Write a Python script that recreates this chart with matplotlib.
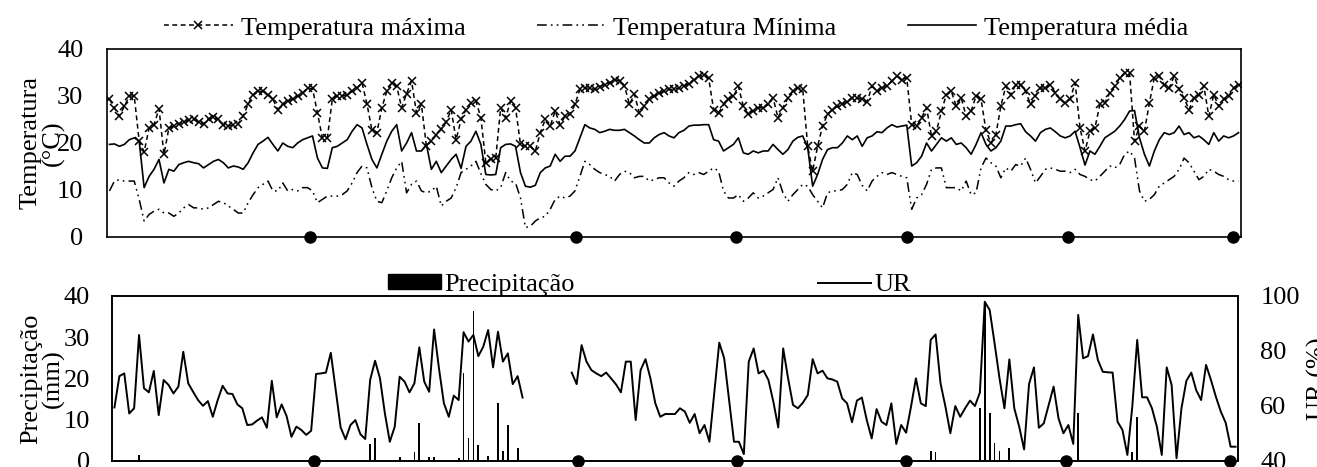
import numpy as np
import matplotlib
matplotlib.use('Agg')
import matplotlib.pyplot as plt
from matplotlib.patches import Patch
from matplotlib.lines import Line2D

plt.rcParams['font.family'] = ['Liberation Serif', 'DejaVu Serif']
plt.rcParams['lines.scale_dashes'] = False

# daily series (229 days)
t_max = [29.3, 27.5, 25.7, 27.8, 30.0, 30.0, 20.4, 18.1, 23.2, 23.9,
         27.3, 17.6, 23.2, 23.6, 24.1, 24.5, 24.8, 25.0, 24.5, 24.1,
         25.2, 25.5, 25.0, 23.9, 23.6, 23.9, 24.1, 25.7, 28.3, 30.3,
         31.0, 31.0, 30.3, 29.3, 27.1, 28.3, 28.9, 29.3, 30.0, 30.7,
         31.7, 31.6, 26.4, 21.0, 21.1, 29.3, 30.0, 30.0, 30.3, 31.0,
         31.7, 32.8, 28.3, 22.7, 22.2, 27.5, 31.0, 32.8, 32.1, 27.5,
         30.5, 33.2, 26.4, 28.2, 19.3, 20.4, 21.8, 22.9, 24.5, 27.1,
         20.7, 25.0, 27.1, 28.5,
         28.9, 25.4, 15.8, 16.5, 16.8, 27.5, 25.4, 28.9, 27.5, 19.7,
         19.3, 19.3, 18.3, 22.2, 25.0, 23.6, 26.8, 23.9, 25.7, 26.1,
         28.2, 31.4, 31.7, 31.7, 31.4, 32.0, 32.4, 32.8, 33.5, 33.2,
         32.2, 28.2, 30.4, 26.4, 27.8, 29.3, 29.9, 30.6, 31.0, 31.4,
         31.4, 31.7, 32.1, 32.6, 33.5, 34.2, 34.4, 33.8, 27.1, 26.4,
         28.2, 29.3, 29.9, 32.1, 27.8, 26.1, 26.8, 27.5, 27.5, 28.2,
         29.6, 25.4, 27.5, 29.6, 31.0, 31.7, 31.4, 19.3, 14.0, 19.3,
         23.6, 26.1, 27.1, 27.8, 28.2, 28.8, 29.6,
         29.6, 29.3, 28.8, 32.1, 31.0, 31.7, 32.1, 33.2, 34.2, 33.5,
         33.9, 23.9, 23.6, 25.4, 27.5, 21.5, 22.5, 26.8, 30.3, 31.0,
         27.8, 29.6, 25.7, 26.8, 30.0, 29.3, 22.7, 20.0, 21.8, 27.8,
         32.1, 30.3, 32.4, 32.4, 31.0, 28.2, 30.0, 31.7, 31.7, 32.4,
         30.7, 29.3, 28.5, 29.3, 32.8, 23.2, 18.3, 22.5, 23.2, 28.2,
         28.5, 30.7, 32.1, 33.9, 34.9, 34.9, 20.4, 23.6, 22.5, 28.5,
         33.9, 34.2, 32.4, 31.7, 34.2, 31.4, 29.6, 27.1, 29.6, 30.3,
         32.1, 25.7, 30.3, 27.8, 29.3, 30.0, 31.7, 32.4]

t_min = [9.8, 11.9, 12.2, 11.9, 11.9, 11.9, 8.0, 3.4, 4.8, 5.5,
         5.9, 5.1, 5.1, 4.4, 5.1, 6.2, 6.9, 6.2, 6.2, 5.9,
         6.2, 6.9, 7.6, 7.3, 6.6, 5.9, 5.1, 5.1, 7.3, 9.0,
         10.5, 11.2, 11.9, 9.8, 9.8, 11.5, 9.8, 10.1, 9.8, 10.5,
         10.5, 9.8, 7.3, 8.0, 8.7, 8.7, 8.7, 9.0, 9.8, 11.5,
         13.7, 15.1, 14.7, 10.5, 7.6, 7.3, 9.8, 12.6, 14.7, 16.1,
         9.4, 11.2, 11.9, 9.8, 9.4, 9.8, 10.8, 6.6, 7.6, 8.3,
         10.5, 13.7, 14.4, 15.1,
         16.1, 13.5, 11.2, 10.1, 9.8, 10.5, 13.7, 11.9, 11.5, 8.3,
         2.0, 2.3, 3.4, 4.1, 4.4, 5.9, 8.0, 8.7, 8.3, 8.7,
         9.8, 12.9, 16.1, 15.4, 14.4, 13.7, 13.3, 12.9, 11.9, 13.3,
         14.0, 13.7, 12.6, 12.9, 12.9, 11.9, 12.2, 12.6, 12.6, 11.5,
         10.8, 11.9, 12.6, 13.7, 13.3, 13.7, 13.3, 14.0, 14.7, 14.0,
         9.8, 8.3, 8.3, 9.0, 7.6, 8.3, 9.4, 8.3, 8.7, 9.4,
         10.1, 12.6, 9.4, 7.6, 9.0, 10.1, 11.2, 10.8, 9.0, 7.6,
         6.2, 9.4, 9.8, 9.8, 10.1, 11.2, 13.7,
         13.3, 11.0, 9.8, 11.9, 12.9, 13.7, 13.3, 13.7, 13.3, 12.9,
         12.6, 5.9, 8.3, 9.0, 11.2, 14.4, 14.7, 14.7, 10.5, 10.5,
         10.5, 9.8, 11.9, 9.0, 9.4, 14.7, 16.8, 15.8, 15.1, 12.6,
         14.7, 14.0, 15.4, 15.1, 16.8, 14.4, 11.5, 12.9, 14.4, 14.7,
         14.4, 14.0, 14.0, 13.7, 14.4, 13.3, 12.9, 12.2, 11.9, 12.9,
         14.0, 15.1, 14.7, 15.4, 17.6, 18.3, 16.8, 9.8, 7.6, 8.0,
         9.0, 10.8, 11.5, 12.2, 12.9, 14.4, 16.8, 15.8, 14.0, 12.2,
         12.9, 14.4, 14.0, 13.3, 12.9, 12.2, 11.9, 11.9]

t_mean = [19.7, 19.8, 19.3, 19.7, 20.7, 21.1, 20.4, 10.5, 12.9, 14.4,
          16.5, 11.5, 14.4, 14.0, 15.4, 15.8, 16.1, 15.8, 15.6, 14.7,
          15.4, 16.1, 16.5, 15.8, 14.7, 15.1, 14.9, 14.4, 15.8, 17.9,
          19.7, 20.4, 21.2, 19.7, 18.3, 20.0, 19.3, 19.0, 20.0, 20.7,
          21.1, 21.5, 16.8, 14.7, 14.6, 19.0, 19.3, 20.0, 20.7, 22.5,
          23.9, 23.2, 19.7, 16.5, 14.7, 17.6, 20.4, 22.5, 23.9, 18.3,
          20.0, 22.2, 18.3, 18.3, 19.7, 14.4, 16.1, 13.7, 15.1, 16.5,
          17.6, 14.6, 19.3, 20.4, 22.5,
          19.7, 13.3, 13.2, 13.3, 19.0, 19.7, 19.8, 19.3, 13.7, 10.8,
          10.6, 11.0, 13.7, 14.7, 15.1, 17.6, 16.1, 17.2, 17.2, 18.3,
          21.1, 23.9, 23.2, 22.9, 22.2, 22.5, 22.9, 22.7, 22.7, 22.9,
          22.2, 21.5, 20.7, 20.0, 20.0, 21.1, 21.8, 22.2, 21.5, 21.1,
          22.2, 22.7, 23.6, 23.8, 23.8, 23.9, 23.9, 20.7, 20.4, 18.3,
          19.0, 19.7, 21.1, 17.9, 17.6, 18.3, 17.9, 18.3, 18.3, 19.7,
          18.6, 17.6, 18.6, 20.4, 21.2, 21.5, 19.0, 10.8, 13.3, 16.5,
          18.6, 19.0, 19.0, 20.0, 21.5, 20.7,
          21.5, 19.3, 21.1, 21.5, 22.4, 22.2, 23.2, 23.9, 23.4, 23.6,
          23.8, 15.1, 15.8, 17.2, 20.0, 18.3, 19.7, 21.1, 20.4, 21.1,
          19.7, 20.0, 19.0, 17.6, 19.7, 22.2, 19.7, 18.3, 19.0, 20.4,
          23.6, 23.6, 23.9, 24.1, 22.4, 21.5, 20.4, 22.2, 22.9, 23.2,
          22.4, 21.5, 21.1, 21.5, 22.5, 19.0, 15.3, 18.3, 17.6, 19.3,
          21.1, 21.8, 22.5, 23.6, 25.0, 26.8, 26.9, 21.1, 17.6, 15.1,
          18.3, 20.7, 22.2, 21.8, 22.2, 23.6, 21.8, 22.2, 21.1, 21.5,
          20.7, 19.7, 22.2, 20.4, 21.5, 21.1, 21.5, 22.2]

nan = float('nan')
ur = [59.4, 70.8, 71.8, 57.2, 59.1, 85.8, 66.4, 64.9, 72.7, 56.6,
      69.4, 67.6, 64.5, 67.0, 79.7, 68.2, 65.1, 62.1, 60.0, 61.7,
      56.0, 62.1, 67.3, 64.5, 64.3, 60.5, 59.1, 53.0, 53.2, 54.6,
      55.8, 52.0, 69.1, 55.8, 60.5, 56.3, 48.7, 52.4, 51.2, 49.4,
      50.9, 71.6, 71.8, 72.1, 79.3, 65.7, 52.1, 47.8, 53.0, 54.8,
      49.7, 47.9, 69.4, 76.4, 70.0, 57.2, 46.9, 52.4, 70.6, 68.8,
      64.9, 68.2, 81.3, 68.8, 65.1, 87.8, 73.6, 60.9, 56.0, 63.7,
      62.1, 86.8, 83.4, 85.8, 78.1, 81.5, 87.6,
      74.0, 87.0, 76.1, 79.1, 67.9, 70.8, 63.0,
      nan, nan, nan, nan, nan, nan, nan, nan, nan,
      72.1, 67.9, 82.1, 76.1, 73.0, 71.8, 70.8, 72.1, 70.0, 67.8,
      64.9, 76.1, 76.1, 54.8, 73.0, 77.0, 70.0, 60.9, 56.0, 57.0,
      57.0, 57.0, 59.1, 57.9, 53.8, 57.0, 50.0, 53.0, 46.9, 65.0,
      83.0, 77.3, 62.1, 46.9, 46.9, 42.4, 76.1, 80.9, 71.8, 72.8,
      69.4, 61.5, 52.1, 80.9, 70.0, 60.3, 59.1, 61.1, 63.9, 77.0,
      71.8, 72.8, 70.0, 69.6, 68.8, 62.7, 60.9, 54.0, 61.9, 63.0,
      54.8, 48.1, 58.8, 54.2, 53.0, 60.9, 46.1, 53.0, 50.2, 59.7,
      70.0, 60.9, 59.9, 84.0, 86.0, 68.2, 59.7, 50.0, 59.9, 56.0,
      59.1, 61.9, 59.9, 64.8, 97.9, 94.9, 82.7, 70.0, 59.1, 76.9,
      59.1, 52.4, 44.1, 67.9, 74.0, 52.0, 53.6, 60.3, 67.0, 55.4,
      50.0, 53.0, 46.1, 93.1, 77.3, 78.1, 86.0, 76.7, 72.4, 72.2,
      72.1, 54.2, 51.2, 42.1, 59.7, 84.0, 63.1, 63.1, 59.1, 52.4,
      42.1, 74.0, 67.6, 40.9, 59.1, 69.1, 72.1, 65.7, 62.1, 74.9,
      69.4, 63.3, 57.9, 53.8, 45.1, 45.1]

# rainy days only (index of day, mm)
rain_day = [5, 52, 53, 58, 61, 62, 64, 65, 70, 71, 72, 73, 74, 76, 78, 79, 80, 82,
            166, 167, 176, 177, 178, 179, 180, 182, 196, 207, 208]
rain_mm = [1.4, 4.0, 5.4, 0.8, 2.2, 9.1, 0.9, 0.9, 0.7, 21.2, 5.6, 36.4, 3.8, 1.1,
           13.9, 2.4, 8.7, 3.2, 2.4, 2.0, 12.7, 38.6, 11.5, 4.2, 2.3, 3.0, 11.5, 2.2, 10.7]

# black dots on the x axis
marks = [40.5, 94.3, 126.6, 161.0, 193.5, 226.8]

n = len(t_max)
days = np.arange(n)
W, H = 1317, 467
FS = 19

fig = plt.figure(figsize=(W / 100, H / 100), dpi=100)
ax_t = fig.add_axes([107 / W, 1 - 237 / H, 1134 / W, 188 / H])
ax_b = fig.add_axes([112 / W, 1 - 460.7 / H, 1126 / W, 164.7 / H])

# --- temperature panel
l1, = ax_t.plot(days, t_max, color='k', lw=1.1, ls=(0, (3.5, 2.5)),
                marker='x', ms=6, mew=1.1)
l2, = ax_t.plot(days, t_min, color='k', lw=1.1, ls=(0, (7, 3, 1.2, 3, 1.2, 3)))
l3, = ax_t.plot(days, t_mean, color='k', lw=1.2)
ax_t.plot(marks, [0] * len(marks), 'o', color='k', ms=8, clip_on=False, zorder=5)

ax_t.set_xlim(-0.5, n - 0.5)
ax_t.set_ylim(0, 40)
ax_t.set_yticks([0, 10, 20, 30, 40])
ax_t.set_xticks([])
ax_t.tick_params(axis='y', length=0, labelsize=FS, pad=17)
ax_t.set_ylabel('Temperatura\n(°C)', fontsize=FS, linespacing=1.0)
ax_t.yaxis.set_label_coords(-0.037, 0.5)
ax_t.legend([l1, l2, l3], ['Temperatura máxima', 'Temperatura Mínima', 'Temperatura média'],
            loc='center', bbox_to_anchor=(0.502, 1.112), ncol=3, frameon=False,
            fontsize=FS, handlelength=2.6, handletextpad=0.3, columnspacing=2.7,
            borderpad=0, borderaxespad=0, numpoints=1)

# --- rain / humidity panel
rain = np.zeros(n)
rain[rain_day] = rain_mm
ax_b.bar(days, rain, width=0.35, color='k')
ax_b.plot(marks, [0] * len(marks), 'o', color='k', ms=8, clip_on=False, zorder=5)
ax_b.set_xlim(-0.5, n - 0.5)
ax_b.set_ylim(0, 40)
ax_b.set_yticks([0, 10, 20, 30, 40])
ax_b.set_xticks([])
ax_b.tick_params(axis='y', length=0, labelsize=FS, pad=16)
ax_b.set_ylabel('Precipitação\n(mm)', fontsize=FS, linespacing=1.0)
ax_b.yaxis.set_label_coords(-0.0417, 0.5)

ax_r = ax_b.twinx()
ax_r.plot(days, ur, color='k', lw=1.4)
ax_r.set_ylim(40, 100)
ax_r.set_yticks([40, 60, 80, 100])
ax_r.tick_params(axis='y', length=0, labelsize=FS, pad=16)
ax_r.set_ylabel('UR (%)', fontsize=FS)
ax_r.yaxis.set_label_coords(1.0613, 0.5)

for ax in (ax_t, ax_b, ax_r):
    for s in ax.spines.values():
        s.set_linewidth(1.2)

ax_b.legend([Patch(color='k'), Line2D([], [], color='k', lw=1.4)], ['Precipitação', 'UR'],
            loc='center left', bbox_to_anchor=(0.245, 1.067), ncol=2, frameon=False,
            fontsize=FS, handlelength=2.0, handleheight=0.5, handletextpad=0.15,
            columnspacing=9.2, borderpad=0, borderaxespad=0)

fig.savefig('out.png', dpi=100)
